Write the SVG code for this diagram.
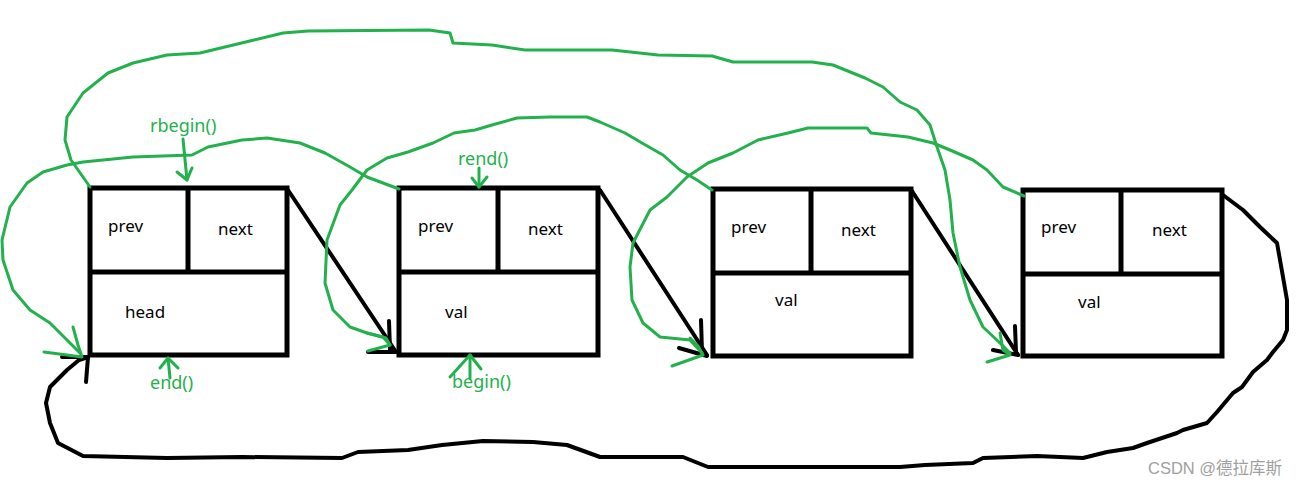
<svg xmlns="http://www.w3.org/2000/svg" width="1300" height="486" viewBox="0 0 1300 486">
<style>
.box{fill:none;stroke:#000;stroke-width:5}
.div{stroke:#000;stroke-width:5}
.blk{fill:none;stroke:#000;stroke-width:4;stroke-linecap:round;stroke-linejoin:round}
.grn{fill:none;stroke:#22b14c;stroke-width:3;stroke-linecap:round;stroke-linejoin:round}
.t{font-family:"Noto Sans","Liberation Sans",sans-serif;font-size:17px;fill:#000}
.g{font-family:"Noto Sans","Liberation Sans",sans-serif;font-size:18px;fill:#22b14c}
.w{font-family:"Liberation Sans","Noto Sans CJK SC",sans-serif;font-size:16.5px;fill:#a0a0a0}
</style>
<rect width="1300" height="486" fill="#fff"/>
<g id="node1">
<rect class="box" x="90" y="188" width="197" height="167"/>
<line class="div" x1="90" y1="272" x2="289" y2="272"/>
<line class="div" x1="188" y1="188" x2="188" y2="272"/>
<text class="t" x="108" y="232">prev</text>
<text class="t" x="218" y="235">next</text>
<text class="t" x="125" y="318">head</text>
</g>
<g id="node2">
<rect class="box" x="399" y="188" width="199" height="167"/>
<line class="div" x1="399" y1="272" x2="600" y2="272"/>
<line class="div" x1="498" y1="188" x2="498" y2="272"/>
<text class="t" x="418" y="232">prev</text>
<text class="t" x="528" y="235">next</text>
<text class="t" x="445" y="318">val</text>
</g>
<g id="node3">
<rect class="box" x="713" y="189" width="198" height="167"/>
<line class="div" x1="713" y1="273" x2="913" y2="273"/>
<line class="div" x1="811" y1="189" x2="811" y2="273"/>
<text class="t" x="731" y="233">prev</text>
<text class="t" x="841" y="236">next</text>
<text class="t" x="775" y="306">val</text>
</g>
<g id="node4">
<rect class="box" x="1023" y="190" width="199" height="166"/>
<line class="div" x1="1023" y1="274" x2="1224" y2="274"/>
<line class="div" x1="1121" y1="190" x2="1121" y2="274"/>
<text class="t" x="1041" y="233">prev</text>
<text class="t" x="1152" y="236">next</text>
<text class="t" x="1078" y="308">val</text>
</g>
<g id="connectors">
<polyline class="blk" points="288,190 396,352"/>
<polyline class="blk" points="389,321 390,350 396,352 368,352"/>
<polyline class="blk" points="600,190 707,355"/>
<polyline class="blk" points="701,320 702,352 707,356 679,348"/>
<polyline class="blk" points="912,191 1018,355"/>
<polyline class="blk" points="1015,326 1016,352 1018,355 993,350"/>
<polyline class="blk" points="1223,195 1243,210 1260,227 1277,243 1283,277 1287,300 1287,330 1283,340 1273,352 1267,360 1253,372 1242,387 1233,393 1217,412 1207,423 1183,430 1177,433 1147,443 1133,448 1107,452 1083,458 1037,456 983,458 973,463 925,465 900,467 708,467 683,457 600,457 567,445 533,442 483,441 442,445 408,450 358,452 342,458 242,457 167,458 83,456 58,443 50,423 46,403 50,387 67,370 79,360 88,357"/>
<polyline class="blk" points="62,357 88,357 86,382"/>
<polyline class="grn" points="90,187 83,177 71,160 65,140 67,117 83,93 108,73 133,63 167,55 200,53 254,40 283,33 308,31 429,30 450,33 453,43 492,45 525,50 612,50 658,55 712,56 733,62 812,62 833,65 865,78 883,87 900,102 917,110 930,125 937,147 945,170 950,200 953,233 960,267 970,300 983,327 1000,343 1010,353"/>
<polyline class="grn" points="1000,333 1003,350 1010,355 987,362"/>
<polyline class="grn" points="1024,196 1003,187 987,170 973,160 950,150 933,143 908,137 871,133 867,128 808,128 788,133 758,140 733,153 708,163 687,177 667,197 650,210 633,243 630,267 632,300 643,323 660,337 690,340 702,353"/>
<polyline class="grn" points="690,338 698,346 703,355 672,366"/>
<polyline class="grn" points="712,190 697,180 680,170 663,155 642,143 625,133 600,122 587,117 550,117 517,118 492,125 475,130 454,133 433,143 408,152 387,158 367,170 352,190 340,205 327,240 325,283 333,310 350,327 367,333 383,337 390,345"/>
<polyline class="grn" points="367,333 386,338 390,345 368,351"/>
<polyline class="grn" points="399,189 383,183 367,177 350,167 325,153 300,143 267,138 242,140 208,147 192,155 133,157 83,162 67,165 43,172 27,183 10,207 2,240 3,260 13,290 30,310 50,323 67,340 80,353"/>
<polyline class="grn" points="73,327 78,345 82,357 44,352"/>
<text class="g" x="150" y="132">rbegin()</text>
<polyline class="grn" points="183,139 187,180"/>
<polyline class="grn" points="177,172 187,180 192,168"/>
<text class="g" x="458" y="165">rend()</text>
<polyline class="grn" points="479,168 479,187"/>
<polyline class="grn" points="472,178 479,187 487,177"/>
<text class="g" x="150" y="389">end()</text>
<polyline class="grn" points="170,378 168,358"/>
<polyline class="grn" points="160,368 168,358 178,368"/>
<text class="g" x="452" y="388">begin()</text>
<polyline class="grn" points="470,378 470,355"/>
<polyline class="grn" points="450,377 470,355 481,369"/>
</g>
<text class="w" x="1148" y="474">CSDN @德拉库斯</text>
</svg>
